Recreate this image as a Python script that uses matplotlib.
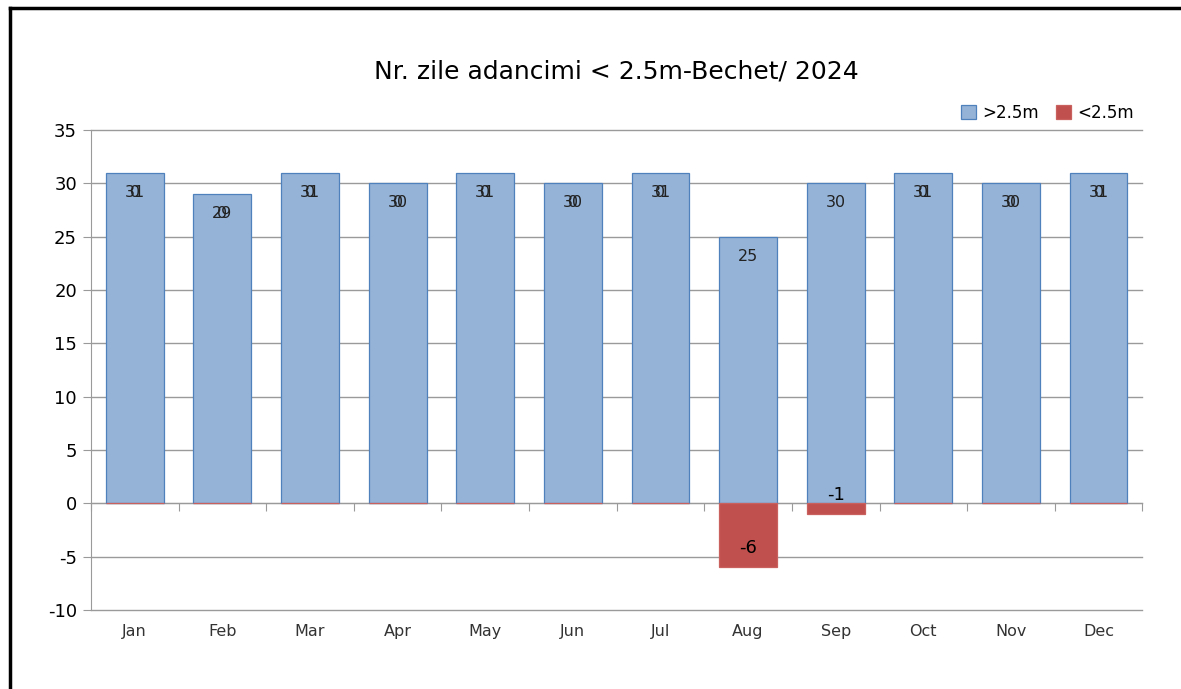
import numpy as np
import matplotlib
matplotlib.use('Agg')
import matplotlib.pyplot as plt
from matplotlib.lines import Line2D

months = ['Jan', 'Feb', 'Mar', 'Apr', 'May', 'Jun', 'Jul', 'Aug', 'Sep', 'Oct', 'Nov', 'Dec']
peste = [31, 29, 31, 30, 31, 30, 31, 25, 30, 31, 30, 31]  # >2.5m
sub = [0, 0, 0, 0, 0, 0, 0, -6, -1, 0, 0, 0]  # <2.5m
yticks = [-10, -5, 0, 5, 10, 15, 20, 25, 30, 35]

plt.rcParams['font.family'] = ['DejaVu Sans']

fig = plt.figure(figsize=(11.81, 6.89), dpi=100)
ax = fig.add_axes([0.077, 0.1147, 0.8903, 0.6966])

x = np.arange(len(months))
w = 0.66
ax.bar(x, peste, w, color='#95B3D7', edgecolor='#4F81BD', linewidth=0.9, label='>2.5m', zorder=3)
ax.bar(x, sub, w, color='#C0504D', edgecolor='#C9625F', linewidth=0.9, label='<2.5m', zorder=3)

# etichete (in Excel eticheta "0" cade peste eticheta barei albastre)
for i in range(len(months)):
    ax.annotate(str(peste[i]), (x[i], peste[i]), xytext=(0, -14), textcoords='offset points',
                ha='center', va='center', fontsize=11.5, color='#222222', zorder=5)
    if sub[i] < 0:
        ax.annotate(str(sub[i]), (x[i], sub[i]), xytext=(0, 14), textcoords='offset points',
                    ha='center', va='center', fontsize=13, color='black', zorder=5)
    else:
        ax.annotate(str(sub[i]), (x[i], peste[i]), xytext=(0, -14), textcoords='offset points',
                    ha='center', va='center', fontsize=11.5, color='#222222', zorder=5)

ax.set_xlim(-0.5, len(months) - 0.5)
ax.set_ylim(-10, 35)
ax.set_yticks(yticks)
ax.set_yticklabels([str(t) for t in yticks], fontsize=13)
ax.yaxis.grid(True, color='#9a9a9a', linewidth=1, zorder=0)
for gl in ax.get_ygridlines():
    gl.set_clip_on(False)
ax.tick_params(axis='y', length=6, color='#9a9a9a', pad=4)

ax.spines['top'].set_visible(False)
ax.spines['right'].set_visible(False)
ax.spines['left'].set_color('#9a9a9a')
ax.spines['bottom'].set_position(('data', 0))
ax.spines['bottom'].set_color('#9a9a9a')
ax.set_xticks(np.arange(-0.5, len(months), 1))
ax.set_xticklabels([])
ax.tick_params(axis='x', length=6, color='#9a9a9a', direction='out')

for i, m in enumerate(months):
    ax.text(x[i], -0.045, m, transform=ax.get_xaxis_transform(), ha='center', va='center',
            fontsize=11.5, color='#333333')

ax.set_title('Nr. zile adancimi < 2.5m-Bechet/ 2024', fontsize=18, pad=37)

leg = ax.legend(loc='lower right', bbox_to_anchor=(1.0, 1.0), ncol=2, frameon=False,
                fontsize=12, handlelength=0.9, handleheight=0.9, columnspacing=1.0,
                handletextpad=0.4, borderaxespad=0.1)

# chenar
fig.add_artist(Line2D([0.0085, 0.0085], [0.0, 0.989], color='black', linewidth=2.5))
fig.add_artist(Line2D([0.0085, 1.0], [0.989, 0.989], color='black', linewidth=2.5))

fig.savefig('out.png', dpi=100)
